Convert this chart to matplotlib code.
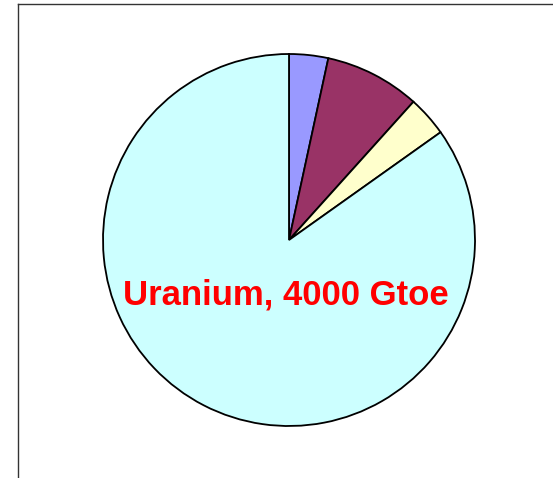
import matplotlib.pyplot as plt
from matplotlib.lines import Line2D

# resource estimates (Gtoe)
labels = ['Oil', 'Coal', 'Gas', 'Uranium']
values = [160, 390, 165, 4000]
colors = ['#9999FF', '#993366', '#FFFFCC', '#CCFFFF']

W, H = 553, 478

fig = plt.figure(figsize=(W / 100, H / 100), dpi=100)
fig.patch.set_facecolor('white')

# chart area border (only left and top edges are visible in the crop)
fig.add_artist(Line2D([18 / W, 18 / W], [0, 1 - 4 / H], color='#333333', lw=1.0))
fig.add_artist(Line2D([18 / W, 1], [1 - 4 / H, 1 - 4 / H], color='#333333', lw=1.0))

ax = fig.add_axes([0, 0, 1, 1])
ax.pie(values, colors=colors, startangle=90, counterclock=False,
       center=(289, H - 240), radius=186,
       wedgeprops=dict(edgecolor='black', linewidth=1.3))
ax.set_xlim(0, W)
ax.set_ylim(0, H)
ax.set_aspect('equal')
ax.axis('off')

ax.text(285.5, H - 295, 'Uranium, 4000 Gtoe', color='#FF0000', fontsize=25,
        fontweight='bold', family=['Liberation Sans', 'DejaVu Sans'],
        ha='center', va='center')

fig.savefig('out.png', dpi=100)
